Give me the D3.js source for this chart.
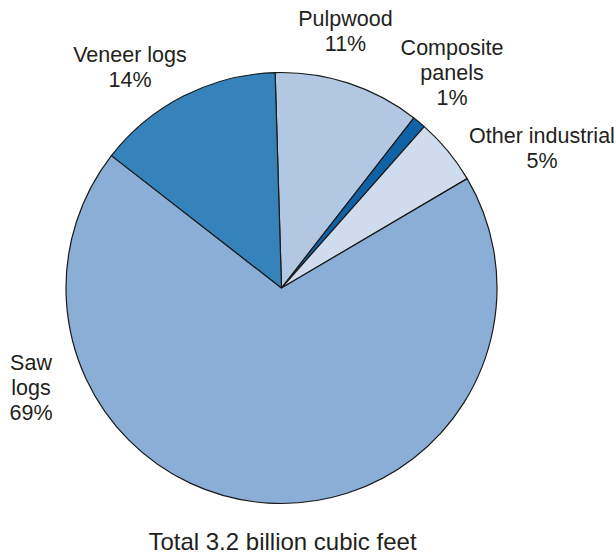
<!DOCTYPE html>
<html>
<head>
<meta charset="utf-8">
<script src="https://cdn.jsdelivr.net/npm/d3@7"></script>
<style>
  html, body { margin: 0; padding: 0; background: #fff; }
  svg { display: block; font-family: "Liberation Sans", Arial, sans-serif; }
</style>
</head>
<body>
<svg id="chart" width="616" height="556"></svg>
<script>
// Industrial roundwood products share, clockwise from the top
const categories = ["Pulpwood", "Composite panels", "Other industrial", "Saw logs", "Veneer logs"];
const shares = [11, 1, 5, 69, 14];
const colors = ["#b1c7e2", "#0f62a6", "#cfdcee", "#8aaed5", "#3683bb"];
const labelLines = [
  ["Pulpwood", "11%"],
  ["Composite", "panels", "1%"],
  ["Other industrial", "5%"],
  ["Saw", "logs", "69%"],
  ["Veneer logs", "14%"]
];
const labelPos = [
  { x: 345.5, y: 26 },
  { x: 452, y: 55 },
  { x: 542, y: 143 },
  { x: 31, y: 370 },
  { x: 130, y: 62 }
];
const totalText = "Total 3.2 billion cubic feet";

const svg = d3.select("#chart");
const cx = 281.5, cy = 288, radius = 215.5;
const startDeg = -1.7;

const pie = d3.pie()
  .sort(null)
  .value(d => d)
  .startAngle(startDeg * Math.PI / 180)
  .endAngle((startDeg + 360) * Math.PI / 180);

const arc = d3.arc().innerRadius(0).outerRadius(radius);

const g = svg.append("g").attr("transform", `translate(${cx},${cy})`);

g.selectAll("path")
  .data(pie(shares))
  .join("path")
  .attr("d", arc)
  .attr("fill", (d, i) => colors[i])
  .attr("stroke", "#1a1a1a")
  .attr("stroke-width", 1.2)
  .attr("stroke-linejoin", "round");

const lineH = 25;
labelLines.forEach((lines, i) => {
  const p = labelPos[i];
  const t = svg.append("text")
    .attr("x", p.x)
    .attr("y", p.y)
    .attr("text-anchor", "middle")
    .attr("font-size", 21.5)
    .attr("fill", "#231f20");
  lines.forEach((s, j) => {
    t.append("tspan").attr("x", p.x).attr("y", p.y + j * lineH).text(s);
  });
});

svg.append("text")
  .attr("x", 282.5)
  .attr("y", 550)
  .attr("text-anchor", "middle")
  .attr("font-size", 24)
  .attr("fill", "#231f20")
  .text(totalText);
</script>
</body>
</html>
